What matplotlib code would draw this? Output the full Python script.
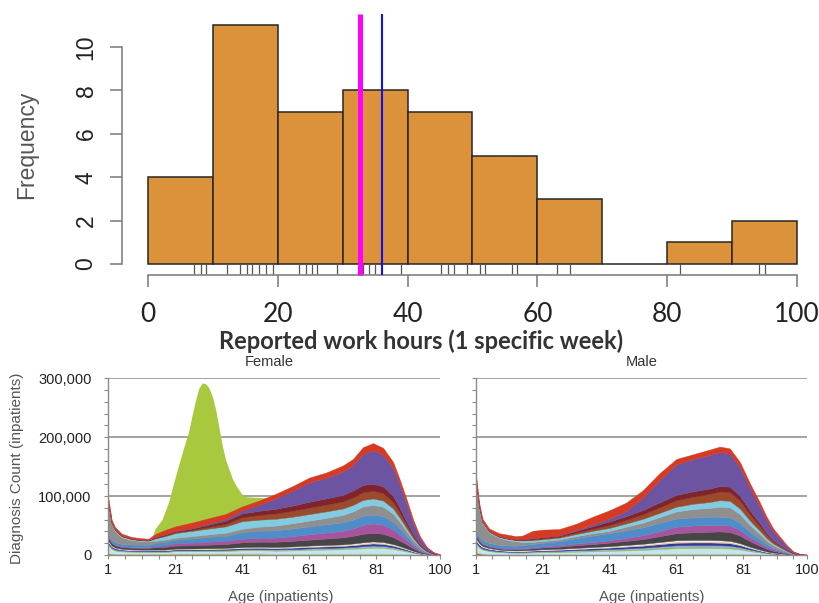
import numpy as np
import matplotlib
matplotlib.use('Agg')
import matplotlib.pyplot as plt
from matplotlib.ticker import FuncFormatter, FixedLocator, MultipleLocator

W, H = 819, 603

# ---------------- histogram: reported work hours ----------------
bin_edges = [0, 10, 20, 30, 40, 50, 60, 70, 80, 90, 100]
counts = [4, 11, 7, 8, 7, 5, 3, 0, 1, 2]
rug_hours = [7.1, 8.1, 9.0, 12.1, 14.2, 15.2, 16.1, 17.1, 18.2, 19.2, 23.3, 24.3,
             25.2, 26.0, 29.1, 33.1, 34.0, 35.0, 39.0, 45.2, 46.2, 47.1, 49.2,
             51.2, 52.0, 56.1, 56.9, 63.0, 65.1, 82.0, 94.2, 95.0]
median_hours = 32.6   # magenta
mean_hours = 36.1     # blue

# ---------------- stacked diagnosis counts (thousands) by age ----------------
S_AGE = [1, 2, 3, 5, 8, 11, 13, 15, 18, 21, 26, 31, 36, 41, 46, 51, 56, 61, 66, 71,
         74, 77, 80, 83, 86, 88, 90, 92, 94, 96, 98, 100]

layer_colors = ['#E8702A', '#B9DA8F', '#C4E4F2', '#86C14A', '#A8A4D8', '#2C3F98',
                '#E7C9A2', '#F4F4F4', '#464646', '#A7539E', '#4E8DC9', '#8F8F8F',
                '#82CBE0', '#9B4B2B', '#7F242A', '#6D54A2', '#D63A22']

f_orange = [3, 2, 1.5, 1.5, 1.5, 1.5, 1.5, 1.5, 1.5, 1.5, 1.5, 1.5, 1.5, 1.5, 1.5,
            0, 0, 0, 0, 0, 0, 0, 0, 0, 0, 0, 0, 0, 0, 0, 0, 0]
f_lgreen = [1, 1, 1, 1, 1, 1, 1, 1, 1, 1.5, 1.5, 1.5, 1.5, 1.8, 2, 2.3, 2.5, 2.8, 3, 3.2,
            3.4, 3.6, 3.8, 3.7, 3.1, 2.5, 1.8, 1.2, 0.6, 0.3, 0.1, 0]
f_lblue = [12, 7, 5, 3.5, 3, 2.8, 2.8, 2.5, 2.5, 3.5, 3.5, 3.7, 4, 4.5, 4.6, 5, 5.3, 5.8,
           6.2, 6.6, 7, 7.8, 8.5, 8.2, 7, 5.7, 4.2, 2.6, 1.4, 0.6, 0.2, 0.1]
f_green = [1, 1, 1, 0.8, 0.7, 0.7, 0.7, 0.8, 0.8, 0.8, 0.8, 0.9, 0.9, 1, 1, 1.1, 1.2, 1.3,
           1.4, 1.5, 1.6, 1.8, 1.9, 1.8, 1.5, 1.2, 0.9, 0.6, 0.3, 0.1, 0.05, 0]
f_lav = [2, 1.5, 1, 1, 0.8, 0.8, 0.8, 0.8, 0.8, 0.8, 0.8, 0.9, 0.9, 1, 1, 1.1, 1.2, 1.3,
         1.4, 1.5, 1.6, 1.8, 1.9, 1.8, 1.5, 1.2, 0.9, 0.6, 0.3, 0.1, 0.05, 0]
f_dblue = [3, 2, 2, 1.5, 1.2, 1.2, 1.2, 1.3, 1.3, 1.4, 1.5, 1.6, 1.7, 2, 2, 2.1, 2.3, 2.5,
           2.6, 2.8, 3, 3.3, 3.5, 3.3, 2.8, 2.3, 1.7, 1.1, 0.6, 0.3, 0.1, 0]
f_tan = [1, 1, 0.8, 0.7, 0.6, 0.6, 0.6, 0.7, 0.7, 0.8, 0.8, 0.8, 0.9, 1, 1.1, 1.1, 1.2,
         1.4, 1.5, 1.5, 1.8, 2, 2.1, 2, 1.6, 1.3, 1, 0.6, 0.3, 0.1, 0, 0]
f_white = [1, 0.5, 0.5, 0.5, 0.5, 0.5, 0.5, 0.5, 0.5, 0.5, 0.6, 0.6, 0.6, 0.7, 0.8, 0.8,
           0.8, 0.9, 0.9, 0.9, 1.1, 1.2, 1.3, 1.2, 1, 0.8, 0.5, 0.3, 0.1, 0.1, 0, 0]
f_dgray = [6, 4, 3.5, 3, 3, 3, 3, 4, 4.5, 5, 5.5, 6, 6.5, 8, 8.5, 9, 9.5, 10, 11, 12,
           13, 14.5, 14.5, 14, 12, 9.5, 7, 4.5, 2.3, 1, 0.35, 0.1]
f_mag = [2, 1.5, 1.5, 1.5, 1.5, 1.5, 1.5, 2, 3, 4, 4.5, 5, 5.5, 6, 6.5, 7, 8, 9, 10, 11,
         12.5, 15, 16, 15.5, 13, 10.5, 7.5, 4.5, 2.3, 1, 0.35, 0.1]
f_sblue = [5, 4, 4, 4, 4, 4, 4, 5, 6, 6, 7, 8, 8.5, 11, 12, 12.5, 13, 13.5, 14, 14.5,
           15, 15.5, 15, 14.5, 12.5, 10, 7, 4.5, 2.3, 1, 0.35, 0.1]
f_gray = [45, 26, 18.5, 11, 7.5, 6, 5.5, 4, 3.5, 3.5, 4, 4.5, 5, 6, 7, 8, 9, 10, 11, 12.5,
          14, 16, 16.5, 16, 14, 11, 8, 5, 2.6, 1.1, 0.4, 0.1]
f_cyan = [3, 2, 2, 1.8, 1.5, 1.3, 1.3, 4, 6, 8, 9, 10, 11, 13, 12, 11.5, 11, 11, 11, 11,
          11, 11, 11, 10.5, 9, 7, 5, 3, 1.6, 0.7, 0.25, 0.05]
f_sienna = [1, 0.5, 0.5, 0.5, 0.5, 0.5, 0.5, 1, 1.5, 1.5, 2, 3, 4.5, 7, 8, 9, 10, 11,
            11.5, 12, 12.5, 13, 13, 12.5, 11, 8.5, 6, 3.5, 1.8, 0.8, 0.3, 0.05]
f_maroon = [1, 0.5, 0.5, 0.5, 0.5, 0.5, 0.5, 1, 1.5, 1.5, 2, 3.5, 5, 6, 7, 8, 9, 10, 10.5,
            11, 12, 12.5, 12, 11.5, 10, 8, 5.5, 3.5, 1.8, 0.8, 0.3, 0.05]
f_purple = [2, 1, 0.7, 0.5, 0.4, 0.4, 0.4, 0.5, 0.5, 0.7, 1, 2, 3, 5, 10, 18, 25, 33, 35,
            40, 43, 53, 57, 54, 48, 40, 31, 19.5, 10.5, 4.5, 1.6, 0.3]
f_red = [8, 4.5, 3.5, 3, 2.3, 2.2, 1.8, 5, 7, 7.5, 9, 9, 8.5, 7, 7.5, 7.5, 8, 8, 9, 10,
         10.5, 11, 12, 11.5, 10, 8.5, 7, 5, 3.2, 1.5, 0.6, 0.1]

# pregnancy bump (female only), top edge
G_AGE = [13, 14, 15, 17, 19, 20, 22, 24, 25, 26, 27, 28, 29, 30, 31, 32, 33, 34, 35, 36,
         38, 39, 41, 42, 45, 48, 48.6]
G_TOP = [0, 30, 45, 60, 90, 112, 153, 192, 210, 237, 262, 283, 292, 291, 284, 270, 248,
         217, 186, 162, 130, 119, 102, 99, 98, 97, 0]

m_orange = [5, 3, 2, 1, 0.3, 0, 0, 0, 0, 0, 0, 0, 0, 0, 0, 0, 0, 0, 0, 0, 0, 0, 0, 0, 0,
            0, 0, 0, 0, 0, 0, 0]
m_lgreen = [2, 1.5, 1.2, 1, 1, 1, 1, 1, 1.2, 1.3, 1.4, 1.6, 1.8, 2, 2.2, 2.5, 2.9, 3.3,
            3.4, 3.4, 3.3, 3.2, 2.7, 1.9, 1.2, 0.8, 0.5, 0.35, 0.2, 0.1, 0.05, 0]
m_lblue = [12, 8, 6, 4.5, 3.5, 3, 2.8, 2.8, 3, 3.3, 3.6, 4, 4.5, 5, 5.6, 6.2, 7.2, 8.2,
           8.4, 8.4, 8.2, 7.9, 6.6, 4.6, 3, 2, 1.4, 0.95, 0.5, 0.2, 0.1, 0.03]
m_green = [1, 1, 0.8, 0.8, 0.8, 0.8, 0.8, 0.8, 0.9, 1, 1.1, 1.3, 1.4, 1.5, 1.7, 1.9, 2.2,
           2.5, 2.5, 2.5, 2.5, 2.4, 2, 1.4, 0.9, 0.6, 0.4, 0.3, 0.15, 0.05, 0, 0]
m_lav = [2, 1.5, 1, 1, 0.8, 0.8, 0.8, 0.8, 0.9, 1, 1.1, 1.3, 1.4, 1.5, 1.7, 1.9, 2.2, 2.5,
         2.5, 2.5, 2.5, 2.4, 2, 1.4, 0.9, 0.6, 0.4, 0.3, 0.15, 0.05, 0, 0]
m_dblue = [4, 3, 2.5, 2, 1.5, 1.2, 1.2, 1.3, 1.4, 1.6, 1.7, 2, 2.3, 2.6, 3, 3.4, 3.9, 4.4,
           4.5, 4.5, 4.4, 4.2, 3.5, 2.5, 1.6, 1.1, 0.7, 0.45, 0.25, 0.1, 0.05, 0]
m_tan = [1, 1, 0.8, 0.7, 0.6, 0.6, 0.6, 0.6, 0.7, 0.8, 0.9, 1, 1.2, 1.4, 1.6, 1.8, 2.1,
         2.4, 2.4, 2.4, 2.4, 2.3, 1.9, 1.3, 0.8, 0.5, 0.35, 0.2, 0.1, 0, 0, 0]
m_white = [2, 1.5, 1, 0.8, 0.6, 0.6, 0.6, 0.6, 0.6, 0.7, 0.7, 0.8, 0.9, 1, 1.2, 1.3, 1.5,
           1.7, 1.8, 1.8, 1.7, 1.6, 1.3, 0.9, 0.6, 0.4, 0.25, 0.15, 0.05, 0, 0, 0]
m_dgray = [6, 4, 3, 2.5, 2, 2, 2, 2.2, 2.6, 3, 3.5, 4.5, 5, 6, 7, 8, 10, 12, 13, 14, 15,
           15, 13, 9.5, 6.5, 4.5, 3, 2, 1.1, 0.4, 0.12, 0.02]
m_mag = [2, 1.5, 1.2, 1, 1, 1, 1, 1.2, 1.5, 2, 2.5, 3, 3.5, 4, 5, 6.5, 8.5, 11, 11.5,
         11.5, 11, 11, 9.5, 7, 5, 3.5, 2.5, 1.7, 0.9, 0.3, 0.1, 0.02]
m_sblue = [8, 6, 5, 5, 5, 5, 5, 5.5, 6, 6, 7, 9, 11, 12, 13, 13.5, 14, 14, 14, 14, 14, 14,
           12, 9, 6.5, 4.5, 3, 2, 1.1, 0.4, 0.12, 0.02]
m_gray = [80, 48, 30, 18, 12, 9, 7.5, 5.5, 3.5, 3, 3, 3.5, 4, 4, 6, 8, 10, 12, 14, 15, 17,
          17, 15, 11.5, 8.5, 6, 4, 2.7, 1.5, 0.5, 0.16, 0.03]
m_cyan = [3, 2, 1.5, 1.5, 1.5, 2, 2, 2.5, 3, 3, 3, 3.5, 4, 5, 5.5, 6.5, 7, 8, 9, 10, 11,
          11, 9.5, 7.5, 5.5, 4, 2.8, 1.9, 1, 0.35, 0.1, 0.02]
m_sienna = [1, 0.5, 0.5, 0.4, 0.4, 0.5, 0.5, 0.8, 1.2, 1.5, 1.5, 2.5, 3.5, 5, 6, 7.5, 9.5,
            11, 12, 14, 15, 15, 13.5, 10.5, 7.5, 5.5, 3.7, 2.5, 1.4, 0.5, 0.15, 0.02]
m_maroon = [1, 0.5, 0.5, 0.4, 0.4, 0.5, 0.6, 1, 1.8, 2, 2, 3, 4.5, 6, 6.5, 7.5, 8.5, 9, 9,
            9, 9, 9, 8, 6.5, 5, 3.5, 2.5, 1.7, 0.9, 0.3, 0.1, 0.02]
m_purple = [2, 1, 0.5, 0.4, 0.3, 0.3, 0.3, 0.4, 0.5, 0.5, 0.5, 1.5, 3, 5, 9, 21, 38, 52,
            55, 57, 58, 56, 49, 39, 29, 22, 15, 10.3, 5.7, 2, 0.65, 0.1]
m_red = [9, 6, 4.5, 4, 5.3, 5.7, 5.3, 6, 12.2, 12.3, 10.5, 10.5, 13, 14, 14, 12.5, 11.5,
         9, 8, 9, 9, 9, 8.5, 7.5, 6.5, 5.5, 4.5, 3.5, 2, 0.75, 0.3, 0.05]

female_layers = [f_orange, f_lgreen, f_lblue, f_green, f_lav, f_dblue, f_tan, f_white,
                 f_dgray, f_mag, f_sblue, f_gray, f_cyan, f_sienna, f_maroon, f_purple, f_red]
male_layers = [m_orange, m_lgreen, m_lblue, m_green, m_lav, m_dblue, m_tan, m_white,
               m_dgray, m_mag, m_sblue, m_gray, m_cyan, m_sienna, m_maroon, m_purple, m_red]


def box(l, t, r, b):
    # pixel box -> figure fraction
    return [l / W, 1 - b / H, (r - l) / W, (b - t) / H]


fig = plt.figure(figsize=(W / 100, H / 100), dpi=100)

# ================= top: histogram =================
ax = fig.add_axes(box(100, 5, 819, 300))
ax.set_xlim((100 - 148) / 6.49, (819 - 148) / 6.49)
ax.set_ylim((264 - 300) / 21.7, (264 - 5) / 21.7)

ax.bar(bin_edges[:-1], counts, width=np.diff(bin_edges), align='edge',
       color='#DC913B', edgecolor='#262626', linewidth=1.1, zorder=2)
ax.vlines(rug_hours, -0.47, 0, color='#555555', lw=0.9, zorder=2)
ax.vlines(median_hours, -0.5, 11.52, color='#FF00FF', lw=3.6, zorder=4)
ax.vlines(mean_hours, -0.5, 11.52, color='#1010F0', lw=1.5, zorder=4)

for s in ['top', 'right']:
    ax.spines[s].set_visible(False)
ax.spines['left'].set_position(('data', -4))
ax.spines['left'].set_bounds(0, 10)
ax.spines['bottom'].set_position(('data', -0.5))
ax.spines['bottom'].set_bounds(0, 100)
for s in ['left', 'bottom']:
    ax.spines[s].set_color('#777777')
    ax.spines[s].set_linewidth(1.1)

ax.set_xticks(range(0, 101, 20))
ax.set_yticks(range(0, 11, 2))
ax.tick_params(axis='x', length=8.6, width=1.1, color='#777777', pad=11,
               labelsize=19, labelcolor='#222222')
ax.tick_params(axis='y', length=8.6, width=1.1, color='#777777', pad=9,
               labelsize=16.5, labelcolor='#222222', labelrotation=90)
for t in ax.get_xticklabels():
    t.set_fontfamily('Lato')
for t in ax.get_yticklabels():
    t.set_fontfamily('Liberation Sans')
    t.set_va('center')
ax.patch.set_alpha(0)

fig.text(27 / W, 1 - 145 / H, 'Frequency', rotation=90, ha='center', va='center',
         fontsize=16.5, color='#555555', family='Liberation Sans')
fig.text(421 / W, 1 - 341 / H, 'Reported work hours (1 specific week)', ha='center',
         va='center', fontsize=17, weight='bold', family='Lato', color='#333333')

# ================= bottom: stacked areas =================
def panel(box_px, layers, title, title_x, xlabel_x, show_ylabels, bump=None):
    a = fig.add_axes(box(*box_px))
    a.set_xlim(1, 100)
    a.set_ylim(0, 300000)
    if bump is not None:
        a.fill_between(bump[0], 0, np.array(bump[1]) * 1000, color='#A8C83E',
                       lw=0, zorder=1)
    vals = np.array(layers, dtype=float) * 1000
    tops = np.cumsum(vals, axis=0)
    bottoms = tops - vals
    for lo, hi, c in zip(bottoms, tops, layer_colors):
        a.fill_between(S_AGE, lo, hi, color=c, lw=0.3, edgecolor=c, zorder=2)
    a.set_yticks([0, 100000, 200000, 300000])
    a.yaxis.set_minor_locator(MultipleLocator(20000))
    a.grid(axis='y', color='#9C9C9C', lw=1.3)
    a.set_axisbelow(True)
    a.xaxis.set_major_locator(FixedLocator([1, 21, 41, 61, 81, 100]))
    a.xaxis.set_minor_locator(FixedLocator(list(range(1, 100, 5)) + [100]))
    for s in ['top', 'right']:
        a.spines[s].set_visible(False)
    for s in ['left', 'bottom']:
        a.spines[s].set_color('#8A8A8A')
        a.spines[s].set_linewidth(1.0)
    a.tick_params(which='both', length=3, width=0.8, color='#8A8A8A')
    a.tick_params(axis='x', pad=3, labelsize=10.5, labelcolor='#222222')
    a.tick_params(axis='y', pad=9, labelsize=10.5, labelcolor='#222222',
                  labelleft=show_ylabels)
    a.yaxis.set_major_formatter(FuncFormatter(lambda v, p: f'{int(v):,}'))
    for t in a.get_xticklabels() + a.get_yticklabels():
        t.set_fontfamily('Liberation Sans')
    fig.text(title_x / W, 1 - 362 / H, title, ha='center', va='center',
             fontsize=10.5, color='#333333', family='Liberation Sans')
    fig.text(xlabel_x / W, 1 - 597 / H, 'Age (inpatients)', ha='center', va='center',
             fontsize=10.8, color='#555555', family='Liberation Sans')
    return a


panel((108.3, 378.3, 440, 555), female_layers, 'Female', 269, 281, True,
      bump=(G_AGE, G_TOP))
panel((475.7, 378.3, 806.7, 555), male_layers, 'Male', 642, 652, False)

fig.text(17 / W, 1 - 468 / H, 'Diagnosis Count (inpatients)', rotation=90, ha='center',
         va='center', fontsize=11, color='#555555', family='Liberation Sans')

fig.savefig('out.png', dpi=100)
